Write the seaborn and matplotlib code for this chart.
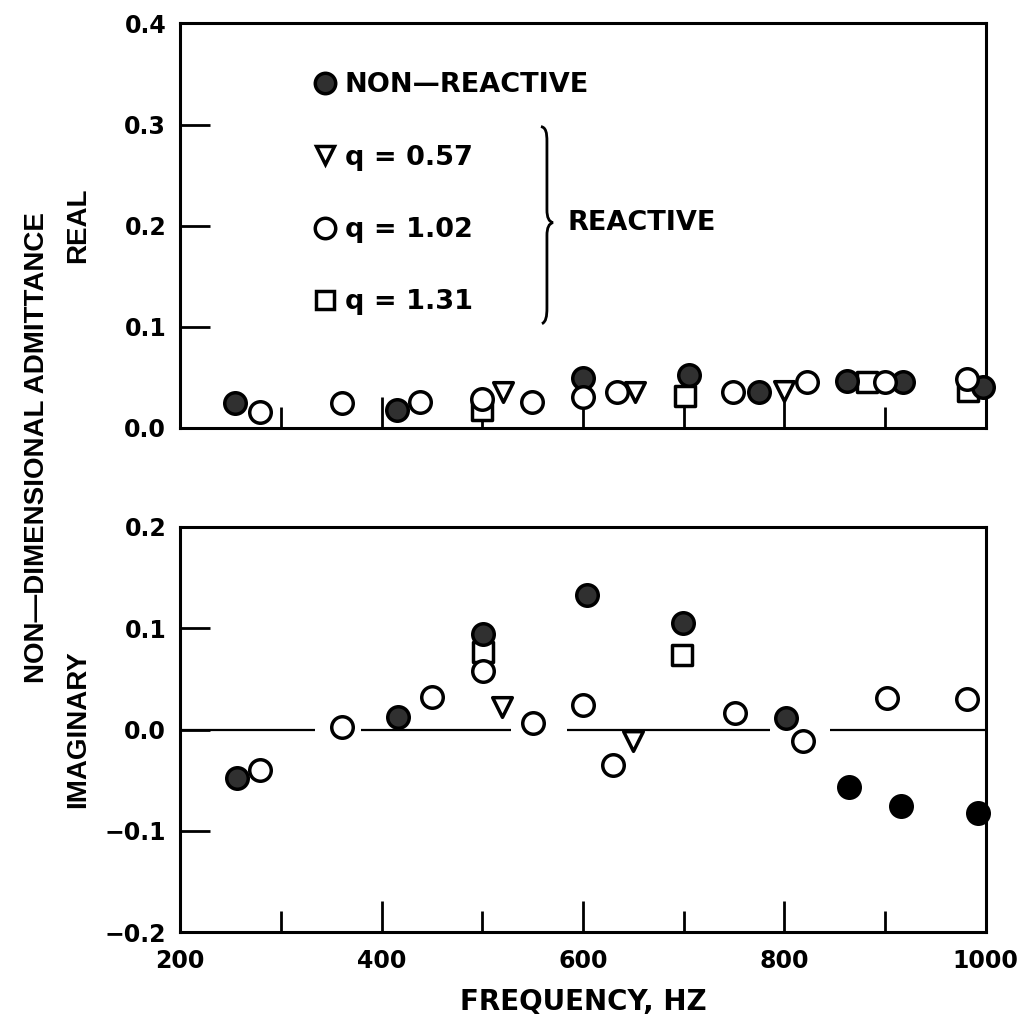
import numpy as np
import matplotlib
matplotlib.use("Agg")
import matplotlib.pyplot as plt
import seaborn as sns
from matplotlib.lines import Line2D
from matplotlib.path import Path
from matplotlib.patches import PathPatch
from matplotlib.ticker import MultipleLocator

# ---------------- data ----------------
# REAL part (top panel)
nonreactive_freq_real = [255, 415, 600, 705, 775, 862, 918, 997]
nonreactive_real = [0.025, 0.018, 0.049, 0.052, 0.035, 0.046, 0.045, 0.040]
q057_freq_real = [521, 652, 800]
q057_real = [0.035, 0.035, 0.036]
q102_freq_real = [279, 361, 438, 500, 549, 600, 634, 749, 822, 900, 981]
q102_real = [0.016, 0.025, 0.026, 0.028, 0.026, 0.030, 0.035, 0.035, 0.045, 0.045, 0.048]
q131_freq_real = [500, 701, 882, 982]
q131_real = [0.018, 0.031, 0.045, 0.036]

# IMAGINARY part (bottom panel)
nonreactive_freq_imag = [257, 416, 501, 604, 699, 802, 864, 916, 992]
nonreactive_imag = [-0.048, 0.012, 0.094, 0.133, 0.105, 0.011, -0.057, -0.075, -0.082]
q057_freq_imag = [520, 650]
q057_imag = [0.022, -0.011]
q102_freq_imag = [279, 361, 450, 501, 550, 600, 630, 751, 819, 902, 981]
q102_imag = [-0.040, 0.002, 0.032, 0.058, 0.006, 0.024, -0.035, 0.016, -0.011, 0.031, 0.030]
q131_freq_imag = [501, 698]
q131_imag = [0.076, 0.074]

# zero reference line in the imaginary panel (drawn in pieces, with gaps)
zero_line_start = [200, 380, 584, 845]
zero_line_end = [334, 529, 786, 1000]

series_labels = ["NON\u2014REACTIVE", "q = 0.57", "q = 1.02", "q = 1.31"]

# ---------------- style ----------------
sns.set_style("ticks")
plt.rcParams['font.family'] = ['DejaVu Sans']
plt.rcParams['font.weight'] = 'bold'
plt.rcParams['axes.linewidth'] = 2.0
plt.rcParams['axes.edgecolor'] = 'black'
plt.rcParams['text.color'] = 'black'
plt.rcParams['axes.labelcolor'] = 'black'
plt.rcParams['xtick.color'] = 'black'
plt.rcParams['ytick.color'] = 'black'

STIPPLE = '#303030'
EDGE_LW = 2.5
styles = {
    series_labels[0]: dict(marker='o', s=240, fc=STIPPLE, z=4),
    series_labels[1]: dict(marker='v', s=200, fc='white', z=6),
    series_labels[2]: dict(marker='o', s=240, fc='white', z=5),
    series_labels[3]: dict(marker='s', s=200, fc='white', z=3),
}

fig = plt.figure(figsize=(10.29, 10.21), dpi=100)
ax1 = fig.add_axes([0.175, 0.581, 0.783, 0.396])
ax2 = fig.add_axes([0.175, 0.087, 0.783, 0.397])


def draw(ax, f, v, label, fc=None):
    st = styles[label]
    sns.scatterplot(x=np.asarray(f), y=np.asarray(v), ax=ax, marker=st['marker'],
                    s=st['s'], color=fc if fc is not None else st['fc'],
                    edgecolor='black', linewidth=EDGE_LW, zorder=st['z'],
                    legend=False, clip_on=False)


# top panel
draw(ax1, q131_freq_real, q131_real, series_labels[3])
draw(ax1, nonreactive_freq_real, nonreactive_real, series_labels[0])
draw(ax1, q102_freq_real, q102_real, series_labels[2])
draw(ax1, q057_freq_real, q057_real, series_labels[1])

# bottom panel
ax2.hlines(np.zeros(len(zero_line_start)), zero_line_start, zero_line_end,
           color='black', lw=1.6, zorder=2)
draw(ax2, q131_freq_imag, q131_imag, series_labels[3])
nf = np.asarray(nonreactive_freq_imag)
nv = np.asarray(nonreactive_imag)
draw(ax2, nf[nf < 850], nv[nf < 850], series_labels[0])
draw(ax2, nf[nf >= 850], nv[nf >= 850], series_labels[0], fc='black')
draw(ax2, q102_freq_imag, q102_imag, series_labels[2])
draw(ax2, q057_freq_imag, q057_imag, series_labels[1])

for ax in (ax1, ax2):
    ax.set_xlim(200, 1000)
    ax.xaxis.set_major_locator(MultipleLocator(200))
    ax.xaxis.set_minor_locator(MultipleLocator(100))
    ax.yaxis.set_major_locator(MultipleLocator(0.1))
    ax.tick_params(axis='x', which='major', direction='in', length=22, width=2.0,
                   top=False, labelsize=17, pad=12, color='black', labelcolor='black')
    ax.tick_params(axis='x', which='minor', direction='in', length=15, width=2.0,
                   top=False, color='black')
    ax.tick_params(axis='y', which='major', direction='in', length=21.5, width=2.0,
                   right=False, labelsize=17, pad=10, color='black', labelcolor='black')
    ax.tick_params(axis='y', which='minor', left=False, right=False)
    for sp in ax.spines.values():
        sp.set_visible(True)
        sp.set_linewidth(2.2)
        sp.set_color('black')
    for lab in ax.get_xticklabels() + ax.get_yticklabels():
        lab.set_fontweight('bold')

ax1.set_ylim(0, 0.4)
ax2.set_ylim(-0.2, 0.2)
ax1.tick_params(axis='x', labelbottom=False)
ax1.set_xlabel("")

ylab_font = dict(family=['Liberation Sans', 'DejaVu Sans'], weight='bold', size=20,
                 color='black')
ax1.set_ylabel("REAL", **ylab_font)
ax2.set_ylabel("IMAGINARY", **ylab_font)
for ax in (ax1, ax2):
    ax.yaxis.label.set_va('center')
    ax.yaxis.set_label_coords(-0.127, 0.5)

ax2.set_xlabel("FREQUENCY, HZ", fontsize=20, fontweight='bold', color='black')
ax2.xaxis.label.set_va('center')
ax2.xaxis.set_label_coords(0.5, -0.173)

fig.text(0.036, 0.562, "NON\u2014DIMENSIONAL ADMITTANCE", rotation=90,
         ha='center', va='center', **ylab_font)

# legend
handles = []
for lab in series_labels:
    st = styles[lab]
    handles.append(Line2D([], [], marker=st['marker'], linestyle='none',
                          markersize=np.sqrt(st['s']) * 0.95, markerfacecolor=st['fc'],
                          markeredgecolor='black', markeredgewidth=EDGE_LW))
leg = ax1.legend(handles, series_labels, loc='upper left', bbox_to_anchor=(0.166, 0.879),
                 frameon=False, fontsize=19.5, labelspacing=1.71, handlelength=0.8,
                 handletextpad=0.35, borderpad=0, borderaxespad=0)
for t in leg.get_texts():
    t.set_fontweight('bold')
    t.set_color('black')


# brace and "REACTIVE" (positions expressed in reference pixels -> axes fraction)
def to_ax(px, py):
    return ((px - 180) / 806.0, (428 - py) / 404.0)

brace_pts = [(541, 127), (546, 128), (547, 133), (547, 142),
             (547, 210),
             (547, 218), (549, 222), (553, 223),
             (549, 224), (547, 228), (547, 236),
             (547, 308),
             (547, 317), (546, 322), (542, 324)]
codes = [Path.MOVETO, Path.CURVE4, Path.CURVE4, Path.CURVE4,
         Path.LINETO,
         Path.CURVE4, Path.CURVE4, Path.CURVE4,
         Path.CURVE4, Path.CURVE4, Path.CURVE4,
         Path.LINETO,
         Path.CURVE4, Path.CURVE4, Path.CURVE4]
brace = Path([to_ax(*p) for p in brace_pts], codes)
ax1.add_patch(PathPatch(brace, transform=ax1.transAxes, fill=False, lw=2.0,
                        edgecolor='black', clip_on=False))
rx, ry = to_ax(568, 223)
ax1.text(rx, ry, "REACTIVE", transform=ax1.transAxes, ha='left', va='center',
         fontsize=19.5, fontweight='bold', color='black')

fig.savefig("out.png", dpi=100)
